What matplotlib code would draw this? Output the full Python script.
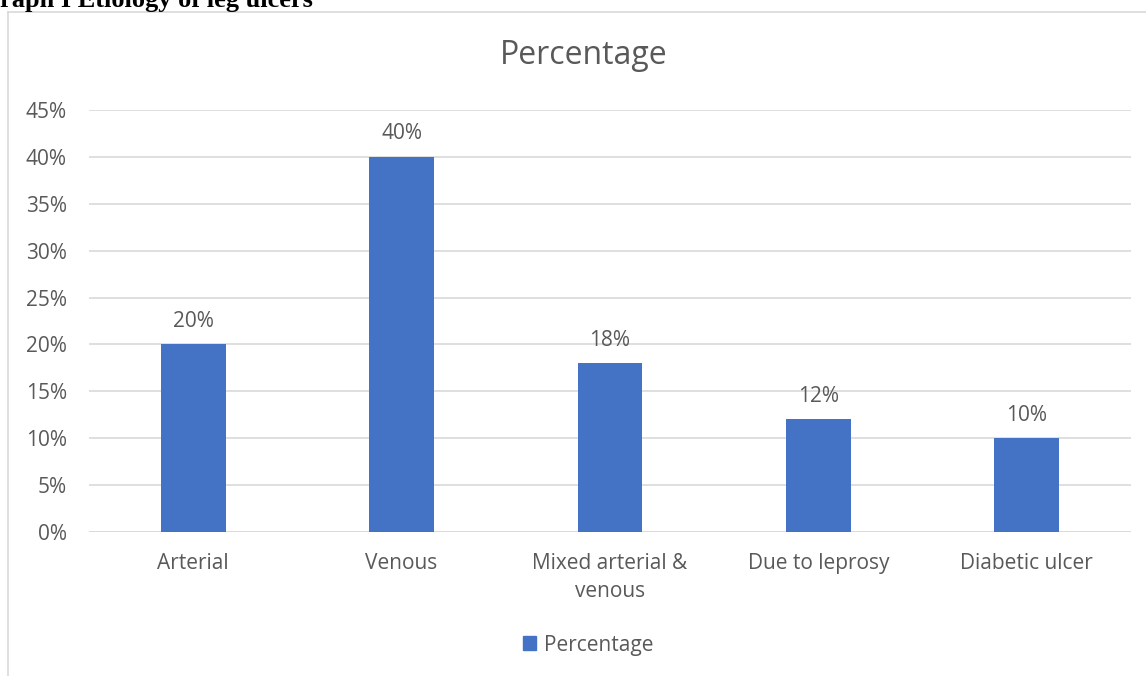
import matplotlib.pyplot as plt
from matplotlib.lines import Line2D
from matplotlib.patches import Patch

# data
categories = ["Arterial", "Venous", "Mixed arterial &\nvenous", "Due to leprosy", "Diabetic ulcer"]
percent = [0.20, 0.40, 0.18, 0.12, 0.10]
yticks = [0, 0.05, 0.10, 0.15, 0.20, 0.25, 0.30, 0.35, 0.40, 0.45]

bar_color = "#4472C4"
text_gray = "#595959"
grid_gray = "#D9D9D9"

plt.rcParams['font.family'] = ['Open Sans', 'DejaVu Sans']

fig = plt.figure(figsize=(11.46, 6.76), dpi=100)
ax = fig.add_axes([89 / 1146, 1 - 532 / 676, (1131 - 89) / 1146, (532 - 110) / 676])

x = list(range(len(categories)))
ax.bar(x, percent, width=0.31, color=bar_color, zorder=3)
ax.set_xlim(-0.5, len(categories) - 0.5)
ax.set_ylim(0, 0.45)
ax.set_yticks(yticks)
ax.set_yticklabels([f"{int(round(t * 100))}%" for t in yticks])
ax.set_xticks(x)
ax.set_xticklabels(categories, linespacing=1.45)
ax.tick_params(axis='both', length=0, colors=text_gray, labelsize=15)
ax.tick_params(axis='x', pad=15)
ax.tick_params(axis='y', pad=16)
ax.yaxis.grid(True, color=grid_gray, linewidth=1.2, zorder=0)
for s in ax.spines.values():
    s.set_visible(False)
ax.axhline(0, color=grid_gray, linewidth=1.2, zorder=2)

# data labels
for xi, v in zip(x, percent):
    ax.annotate(f"{int(round(v * 100))}%", (xi, v), xytext=(0, 9), textcoords='offset points',
                ha='center', va='bottom', fontsize=15, color=text_gray)

# chart title
fig.text(584 / 1146, 1 - 56 / 676, "Percentage", ha='center', va='center', fontsize=23, color=text_gray)

# legend
ax.legend(handles=[Patch(color=bar_color, label="Percentage")], loc='center',
          bbox_to_anchor=(588 / 1146, 1 - 645 / 676), bbox_transform=fig.transFigure,
          frameon=False, fontsize=15, labelcolor=text_gray, handlelength=0.65, handleheight=0.65,
          handletextpad=0.35)

# chart border (partially visible)
fig.add_artist(Line2D([8 / 1146, 8 / 1146], [0, 1 - 12 / 676], transform=fig.transFigure,
                      color=grid_gray, linewidth=1.2))
fig.add_artist(Line2D([8 / 1146, 1], [1 - 12 / 676, 1 - 12 / 676], transform=fig.transFigure,
                      color=grid_gray, linewidth=1.2))

# clipped document caption
fig.text(0, 1 - 7 / 676, "raph I Etiology of leg ulcers", ha='left', va='baseline',
         fontsize=19, fontweight='bold', family='Liberation Serif', color='black')

fig.savefig("out.png", dpi=100)
